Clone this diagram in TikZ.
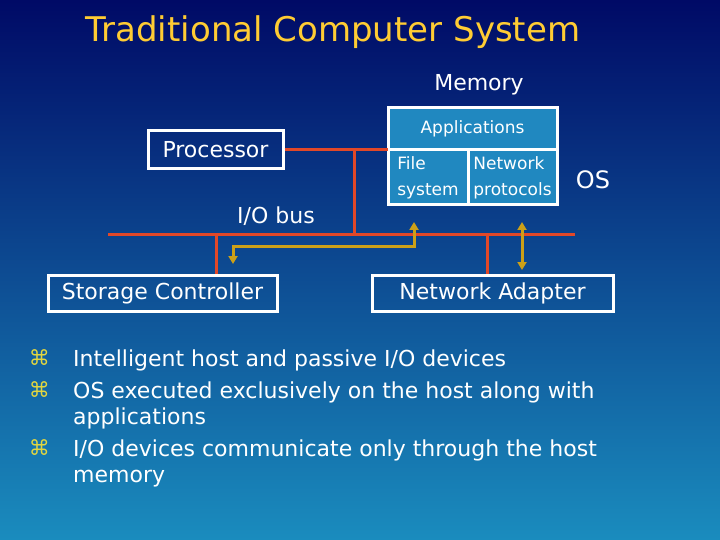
\documentclass[tikz,border=0pt]{standalone}
\usepackage{fontspec}
\setmainfont{DejaVu Sans}
\usetikzlibrary{arrows.meta,positioning}

\definecolor{bgtop}{RGB}{0,10,102}
\definecolor{bgmid}{RGB}{16,92,150}
\definecolor{bgbot}{RGB}{26,140,190}
\definecolor{titleyellow}{RGB}{255,204,51}
\definecolor{busred}{RGB}{226,72,40}
\definecolor{dmagold}{RGB}{204,160,24}
\definecolor{memblue}{RGB}{32,136,192}
\definecolor{bulletyellow}{RGB}{226,214,64}

\begin{document}
\begin{tikzpicture}[x=1pt, y=-1pt, >={Triangle[width=9pt,length=8pt]}]
% --- Global Styles ---
\tikzstyle{unit} = [draw=white, line width=3pt, text=white, inner sep=0pt, font=\fontsize{22}{24}\selectfont]
\tikzstyle{memcell} = [unit, fill=memblue, outer sep=0pt, font=\fontsize{17}{26}\selectfont]
\tikzstyle{tag} = [text=white, inner sep=0pt, font=\fontsize{22}{24}\selectfont]
\tikzstyle{bus} = [busred, line width=3pt]
\tikzstyle{dma} = [<->, dmagold, line width=3pt]
\tikzstyle{item} = [text=white, anchor=base west, align=left, inner sep=0pt, font=\fontsize{22}{26}\selectfont]
\tikzstyle{bulletsym} = [text=bulletyellow, anchor=base east, inner sep=0pt, font=\fontsize{21}{21}\selectfont]

% --- Row Coordinates ---
\def\busy{234}   % I/O bus height
\def\devy{293}   % device boxes

% --- Background ---
\useasboundingbox (0,0) rectangle (720,540);
\shade[top color=bgtop, middle color=bgmid, bottom color=bgbot] (0,0) rectangle (720,540);

\node[text=titleyellow, inner sep=0pt, font=\fontsize{34}{40}\selectfont] (title) at (333,32) {Traditional Computer System};

% ==========================================
% HOST: Processor and Memory
% ==========================================
\node[tag] (memlbl) at (479,85) {Memory};
\node[memcell, minimum width=169pt, minimum height=42pt] (apps) at (472.5,129) {Applications};
\node[memcell, minimum width=80pt, minimum height=55pt, anchor=north west, align=left] (fs) at (apps.south west) {File\\system};
\node[memcell, minimum width=89pt, minimum height=55pt, anchor=north east, align=left] (np) at (apps.south east) {Network\\protocols};
\node[tag, font=\fontsize{24}{28}\selectfont] (os) at (593,180) {OS};

\node[unit, minimum width=135pt, minimum height=38pt] (proc) at (215.5,150) {Processor};
\draw[bus] (proc.east) -- (proc.east -| apps.west);

% ==========================================
% I/O BUS and devices
% ==========================================
\node[tag] (buslbl) at (276,216) {I/O bus};
\coordinate (busL) at (108,\busy);
\coordinate (busR) at (575,\busy);
\coordinate (hostTap) at (354,150);
\coordinate (storTap) at (216,\busy);
\coordinate (nicTap) at (487,\busy);
\draw[bus] (busL) -- (busR);
\draw[bus] (hostTap) -- (hostTap |- busL);

\node[unit, minimum width=229pt, minimum height=36pt] (stor) at (162.5,\devy) {Storage Controller};
\node[unit, minimum width=241pt, minimum height=36pt] (nic) at (492.5,\devy) {Network Adapter};
\draw[bus] (storTap) -- (storTap |- stor.north);
\draw[bus] (nicTap) -- (nicTap |- nic.north);

% data paths through host memory
\coordinate (dmaMem) at (414,222);
\coordinate (dmaStor) at (233,264);
\coordinate (netMem) at (522,222);
\coordinate (netNic) at (522,270);
\draw[dma] (dmaMem) -- ++(0,24) -| (dmaStor);
\draw[dma] (netMem) -- (netNic);

% ==========================================
% Bullet list (base = last line)
% ==========================================
\node[item] (b1) at (73,366) {Intelligent host and passive I/O devices};
\node[item] (b2) at (73,424) {OS executed exclusively on the host along with\\applications};
\node[item] (b3) at (73,482) {I/O devices communicate only through the host\\memory};
\node[bulletsym] (s1) at ([xshift=-23pt,yshift=1pt]b1.base west) {⌘};
\node[bulletsym] (s2) at ([xshift=-23pt,yshift=27pt]b2.base west) {⌘};
\node[bulletsym] (s3) at ([xshift=-23pt,yshift=27pt]b3.base west) {⌘};

\end{tikzpicture}
\end{document}
